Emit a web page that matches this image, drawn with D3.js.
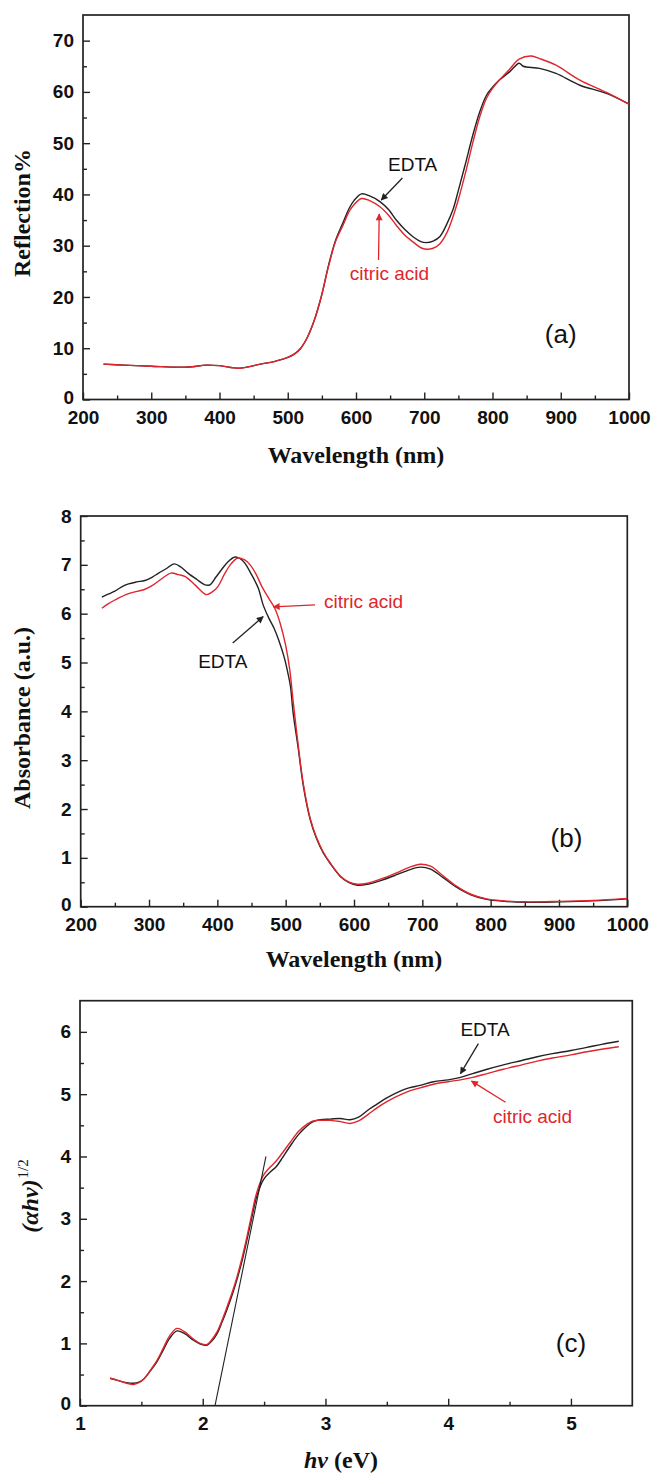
<!DOCTYPE html>
<html>
<head>
<meta charset="utf-8">
<script src="https://cdn.jsdelivr.net/npm/d3@7"></script>
<style>
  body { margin: 0; background: #fff; }
</style>
</head>
<body>
<svg id="chart" width="654" height="1474"></svg>
<script>
// ---- panel (a): reflection vs wavelength ----
const reflEdta = [[230,6.9],[260,6.7],[300,6.5],[340,6.3],[360,6.4],[380,6.7],[400,6.6],[430,6.1],[460,6.9],[480,7.4],[500,8.2],[510,8.9],[519,10.0],[529,12.2],[539,15.5],[549,20.0],[560,26.3],[570,31.0],[581,34.5],[590,37.3],[597,38.8],[608,40.1],[620,39.7],[635,38.6],[648,37.0],[659,35.0],[672,33.1],[684,31.7],[695,30.8],[703,30.6],[713,30.9],[723,31.8],[733,34.2],[742,37.0],[750,40.8],[760,45.8],[771,51.5],[781,56.0],[791,59.3],[800,60.9],[810,62.3],[825,63.9],[839,65.6],[845,65.0],[869,64.6],[893,63.6],[928,61.3],[967,59.7],[1000,57.6]];
const reflCitric = [[230,6.9],[260,6.7],[300,6.5],[340,6.3],[360,6.4],[380,6.7],[400,6.6],[430,6.1],[460,6.9],[480,7.4],[500,8.2],[510,8.9],[519,10.0],[529,12.2],[539,15.5],[549,20.0],[560,26.1],[570,30.8],[581,34.0],[590,36.7],[597,38.0],[608,39.2],[620,38.8],[635,37.6],[648,35.9],[659,34.0],[672,32.0],[684,30.7],[695,29.6],[703,29.3],[713,29.5],[723,30.4],[733,32.5],[742,35.6],[750,39.0],[760,44.0],[771,50.0],[781,55.0],[791,58.7],[800,60.7],[810,62.3],[825,64.4],[839,66.4],[857,67.0],[869,66.5],[893,65.2],[928,62.3],[967,59.9],[1000,57.6]];

// ---- panel (b): absorbance vs wavelength ----
const absEdta = [[231,6.34],[240,6.40],[250,6.46],[260,6.55],[270,6.61],[282,6.65],[294,6.68],[305,6.75],[314,6.83],[325,6.92],[337,7.02],[347,6.95],[357,6.83],[370,6.70],[382,6.59],[389,6.59],[398,6.75],[406,6.90],[416,7.07],[426,7.16],[433,7.13],[440,7.04],[450,6.80],[460,6.52],[467,6.18],[475,5.92],[483,5.70],[490,5.45],[498,5.10],[503,4.80],[507,4.51],[511,3.96],[518,3.28],[526,2.46],[536,1.78],[545,1.40],[555,1.10],[565,0.89],[580,0.62],[592,0.50],[605,0.44],[620,0.46],[640,0.54],[660,0.64],[680,0.75],[697,0.81],[712,0.77],[730,0.60],[750,0.40],[770,0.25],[794,0.15],[820,0.11],[850,0.09],[900,0.10],[950,0.12],[1000,0.16]];
const absCitric = [[231,6.11],[240,6.20],[250,6.28],[270,6.41],[294,6.50],[305,6.58],[318,6.71],[332,6.83],[343,6.80],[353,6.76],[368,6.58],[384,6.39],[393,6.45],[401,6.56],[410,6.80],[420,7.02],[430,7.14],[440,7.10],[448,7.00],[457,6.80],[465,6.56],[475,6.32],[484,6.11],[492,5.80],[500,5.35],[506,4.85],[511,4.20],[518,3.35],[526,2.50],[536,1.80],[545,1.42],[555,1.12],[565,0.90],[580,0.63],[592,0.51],[605,0.46],[620,0.48],[640,0.57],[660,0.68],[680,0.80],[697,0.87],[712,0.83],[730,0.64],[750,0.42],[770,0.26],[794,0.16],[820,0.12],[850,0.10],[900,0.11],[950,0.13],[1000,0.17]];

// ---- panel (c): (alpha h nu)^1/2 vs photon energy ----
const taucEdta = [[1.245,0.44],[1.30,0.41],[1.38,0.37],[1.435,0.36],[1.48,0.38],[1.52,0.43],[1.57,0.55],[1.625,0.70],[1.68,0.90],[1.73,1.08],[1.79,1.20],[1.85,1.16],[1.924,1.05],[1.98,0.99],[2.033,0.97],[2.07,1.03],[2.115,1.15],[2.155,1.33],[2.197,1.54],[2.24,1.78],[2.278,2.02],[2.32,2.32],[2.36,2.66],[2.40,3.02],[2.44,3.36],[2.495,3.63],[2.55,3.75],[2.60,3.84],[2.65,3.98],[2.71,4.16],[2.78,4.35],[2.85,4.49],[2.90,4.56],[2.958,4.59],[3.04,4.60],[3.12,4.61],[3.20,4.59],[3.27,4.63],[3.35,4.75],[3.42,4.84],[3.50,4.94],[3.60,5.04],[3.68,5.10],[3.77,5.14],[3.88,5.20],[4.00,5.23],[4.10,5.27],[4.20,5.33],[4.317,5.40],[4.45,5.47],[4.60,5.54],[4.725,5.60],[4.85,5.65],[5.00,5.70],[5.13,5.75],[5.25,5.80],[5.39,5.85]];
const taucCitric = [[1.245,0.44],[1.30,0.41],[1.38,0.36],[1.435,0.34],[1.48,0.37],[1.52,0.43],[1.57,0.56],[1.625,0.72],[1.68,0.93],[1.73,1.12],[1.79,1.24],[1.85,1.19],[1.924,1.07],[1.98,1.00],[2.033,0.98],[2.07,1.05],[2.115,1.18],[2.155,1.36],[2.197,1.58],[2.24,1.82],[2.278,2.06],[2.32,2.37],[2.36,2.71],[2.40,3.08],[2.44,3.42],[2.495,3.70],[2.55,3.83],[2.60,3.93],[2.65,4.06],[2.71,4.22],[2.78,4.40],[2.85,4.52],[2.90,4.57],[2.958,4.58],[3.04,4.58],[3.12,4.56],[3.20,4.53],[3.27,4.57],[3.35,4.68],[3.42,4.78],[3.50,4.88],[3.60,4.98],[3.68,5.05],[3.77,5.10],[3.88,5.16],[4.00,5.20],[4.10,5.23],[4.20,5.27],[4.317,5.33],[4.45,5.40],[4.60,5.47],[4.725,5.53],[4.85,5.58],[5.00,5.63],[5.13,5.68],[5.25,5.72],[5.39,5.76]];
const tangentC = [[2.10,0],[2.515,4.0]];

// ticks
const wlTicks = [200,300,400,500,600,700,800,900,1000];
const wlMinor = [250,350,450,550,650,750,850,950];
const reflTicks = [0,10,20,30,40,50,60,70];
const reflMinor = [5,15,25,35,45,55,65];
const absTicks = [0,1,2,3,4,5,6,7,8];
const absMinor = [0.5,1.5,2.5,3.5,4.5,5.5,6.5,7.5];
const eTicks = [1,2,3,4,5];
const eMinor = [1.5,2.5,3.5,4.5];
const taucTicks = [0,1,2,3,4,5,6];
const taucMinor = [0.5,1.5,2.5,3.5,4.5,5.5];

const ink = "#222";
const red = "#e0262c";
const sans = "'Liberation Sans', Arial, sans-serif";
const serif = "'Liberation Serif', 'Times New Roman', serif";

const svg = d3.select("#chart");

// arrow heads
const defs = svg.append("defs");
[["head-black", ink], ["head-red", red]].forEach(([id, c]) => {
	defs.append("marker")
		.attr("id", id)
		.attr("viewBox", "0 0 10 10")
		.attr("refX", 9).attr("refY", 5)
		.attr("markerWidth", 9).attr("markerHeight", 7)
		.attr("markerUnits", "userSpaceOnUse")
		.attr("orient", "auto")
		.append("path")
			.attr("d", "M0,0L10,5L0,10Z")
			.attr("fill", c);
});

function panel(p) {
	const g = svg.append("g").attr("transform", "translate(" + p.left + "," + p.top + ")");
	const w = p.right - p.left, h = p.bottom - p.top;
	const x = d3.scaleLinear().domain(p.xDomain).range([0, w]);
	const y = d3.scaleLinear().domain(p.yDomain).range([h, 0]);

	// minor ticks
	g.append("g").attr("transform", "translate(0," + h + ")")
		.call(d3.axisBottom(x).tickValues(p.xMinor).tickSize(-4).tickFormat(""));
	g.append("g")
		.call(d3.axisLeft(y).tickValues(p.yMinor).tickSize(-4).tickFormat(""));

	// major ticks
	g.append("g").attr("transform", "translate(0," + h + ")")
		.call(d3.axisBottom(x).tickValues(p.xTicks).tickSize(-7).tickPadding(11).tickFormat(d3.format("d")))
		.selectAll("text")
			.style("font-family", sans).style("font-weight", "bold")
			.style("font-size", "19px").style("fill", "#111");
	g.append("g")
		.call(d3.axisLeft(y).tickValues(p.yTicks).tickSize(-7).tickPadding(9).tickFormat(d3.format("d")))
		.selectAll("text")
			.attr("dy", d => d === 0 ? "0.2em" : "0.32em")
			.style("font-family", sans).style("font-weight", "bold")
			.style("font-size", "19px").style("fill", "#111");

	g.selectAll(".domain").remove();
	g.selectAll(".tick line").attr("stroke", ink).attr("stroke-width", 1.4);

	g.append("rect")
		.attr("width", w).attr("height", h)
		.attr("fill", "none").attr("stroke", ink).attr("stroke-width", 1.7);

	return { g, x, y, w, h };
}

function curve(P, data, color) {
	const line = d3.line()
		.x(d => P.x(d[0])).y(d => P.y(d[1]))
		.curve(d3.curveCatmullRom.alpha(0.5));
	P.g.append("path").datum(data)
		.attr("d", line)
		.attr("fill", "none").attr("stroke", color).attr("stroke-width", 1.4);
}

function label(P, pos, txt, color, size, anchor) {
	P.g.append("text")
		.attr("x", P.x(pos[0])).attr("y", P.y(pos[1]))
		.attr("text-anchor", anchor || "middle")
		.style("font-family", sans).style("font-size", size + "px")
		.style("fill", color)
		.text(txt);
}

function arrow(P, from, to, color) {
	P.g.append("line")
		.attr("x1", P.x(from[0])).attr("y1", P.y(from[1]))
		.attr("x2", P.x(to[0])).attr("y2", P.y(to[1]))
		.attr("stroke", color).attr("stroke-width", 1.3)
		.attr("marker-end", "url(#" + (color === red ? "head-red" : "head-black") + ")");
}

function axisTitle(x, y, txt, rotate) {
	svg.append("text")
		.attr("transform", "translate(" + x + "," + y + ")" + (rotate ? "rotate(-90)" : ""))
		.attr("text-anchor", "middle")
		.style("font-family", serif).style("font-weight", "bold")
		.style("font-size", "24px").style("fill", "#111")
		.text(txt);
}

// ---------- (a) ----------
const A = panel({left: 83, right: 629, top: 15, bottom: 399.5,
	xDomain: [200, 1000], yDomain: [0, 75],
	xTicks: wlTicks, xMinor: wlMinor, yTicks: reflTicks, yMinor: reflMinor});
curve(A, reflEdta, ink);
curve(A, reflCitric, red);
label(A, [683, 44.6], "EDTA", "#111", 19);
arrow(A, [668, 43.2], [637, 38.9], ink);
label(A, [649, 23.3], "citric acid", red, 19);
arrow(A, [633, 27.2], [634, 36.2], red);
label(A, [900, 11.0], "(a)", "#111", 26);
axisTitle(356, 463, "Wavelength (nm)");
axisTitle(30, 213, "Reflection%", true);

// ---------- (b) ----------
const B = panel({left: 80.7, right: 627.3, top: 516, bottom: 906.7,
	xDomain: [200, 1000], yDomain: [0, 8],
	xTicks: wlTicks, xMinor: wlMinor, yTicks: absTicks, yMinor: absMinor});
curve(B, absEdta, ink);
curve(B, absCitric, red);
label(B, [556, 6.12], "citric acid", red, 19, "start");
arrow(B, [543, 6.18], [482, 6.14], red);
label(B, [408, 4.89], "EDTA", "#111", 19);
arrow(B, [422.5, 5.40], [467, 5.94], ink);
label(B, [911, 1.23], "(b)", "#111", 26);
axisTitle(354, 967, "Wavelength (nm)");
axisTitle(30, 718, "Absorbance (a.u.)", true);

// ---------- (c) ----------
const C = panel({left: 80, right: 632.3, top: 1000.7, bottom: 1405.7,
	xDomain: [1, 5.5], yDomain: [0, 6.5],
	xTicks: eTicks, xMinor: eMinor, yTicks: taucTicks, yMinor: taucMinor});
curve(C, taucEdta, ink);
curve(C, taucCitric, red);
C.g.append("path").datum(tangentC)
	.attr("d", d3.line().x(d => C.x(d[0])).y(d => C.y(d[1])))
	.attr("stroke", ink).attr("stroke-width", 1.1).attr("fill", "none");
label(C, [4.30, 5.93], "EDTA", "#111", 19);
arrow(C, [4.246, 5.81], [4.10, 5.33], ink);
label(C, [4.687, 4.53], "citric acid", red, 19);
arrow(C, [4.467, 4.87], [4.19, 5.21], red);
label(C, [5.0, 0.86], "(c)", "#111", 26);

const xt = svg.append("text")
	.attr("x", 341).attr("y", 1468)
	.attr("text-anchor", "middle")
	.style("font-family", serif).style("font-weight", "bold")
	.style("font-size", "24px").style("fill", "#111");
xt.append("tspan").style("font-style", "italic").text("hν");
xt.append("tspan").text(" (eV)");

const yt = svg.append("text")
	.attr("transform", "translate(38,1196)rotate(-90)")
	.attr("text-anchor", "middle")
	.style("font-family", serif).style("fill", "#111");
yt.append("tspan").style("font-style", "italic").style("font-weight", "bold")
	.style("font-size", "24px").text("(αhν)");
yt.append("tspan").attr("dy", -10).attr("dx", 1).style("font-size", "15px").text("1/2");
</script>
</body>
</html>
